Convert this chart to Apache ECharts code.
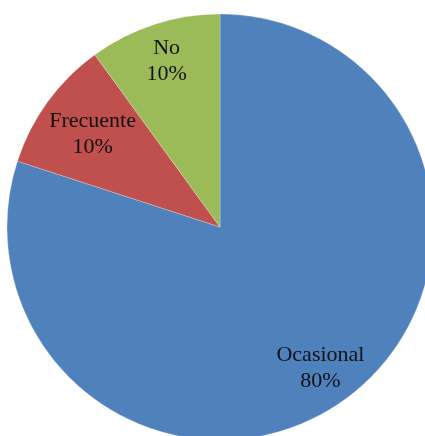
<!DOCTYPE html>
<html>
<head>
<meta charset="utf-8">
<script src="https://cdn.jsdelivr.net/npm/echarts@6/dist/echarts.min.js"></script>
<style>
  html, body { margin: 0; padding: 0; background: #fff; }
  #chart { width: 425px; height: 436px; }
</style>
</head>
<body>
<div id="chart"></div>
<script>
let categories = ['Ocasional', 'Frecuente', 'No'];
let values = [80, 10, 10];
let colors = ['#4F81BD', '#C0504D', '#9BBB59'];

let myChart = echarts.init(document.getElementById('chart'));

let pieData = categories.map(function (name, i) {
    return { name: name, value: values[i], itemStyle: { color: colors[i] } };
});

// 指定图表的配置项和数据
let option = {
    backgroundColor: '#fff',
    animation: false,
    series: [
        {
            type: 'pie',
            center: [220, 227],
            radius: 213,
            startAngle: 90,
            clockwise: true,
            silent: true,
            label: { show: false },
            labelLine: { show: false },
            itemStyle: { borderColor: 'rgba(255,255,255,0.5)', borderWidth: 0.5 },
            data: pieData
        },
        {
            // transparent ring only used to place the labels further out
            type: 'pie',
            center: [220, 227],
            radius: [133, 213],
            startAngle: 90,
            clockwise: true,
            silent: true,
            itemStyle: { color: 'rgba(0,0,0,0)' },
            label: {
                show: true,
                position: 'inside',
                formatter: '{b}\n{d}%',
                fontFamily: '"Liberation Serif", "Times New Roman", serif',
                fontSize: 22,
                lineHeight: 26,
                color: '#111'
            },
            labelLine: { show: false },
            labelLayout: function (params) {
                if (params.dataIndex === 0) return { dx: -3, dy: -1 };
                if (params.dataIndex === 1) return { dx: 15, dy: 11 };
                return { dx: 1, dy: 2 };
            },
            data: categories.map(function (name, i) {
                return { name: name, value: values[i] };
            })
        }
    ]
};

myChart.setOption(option);
</script>
</body>
</html>
